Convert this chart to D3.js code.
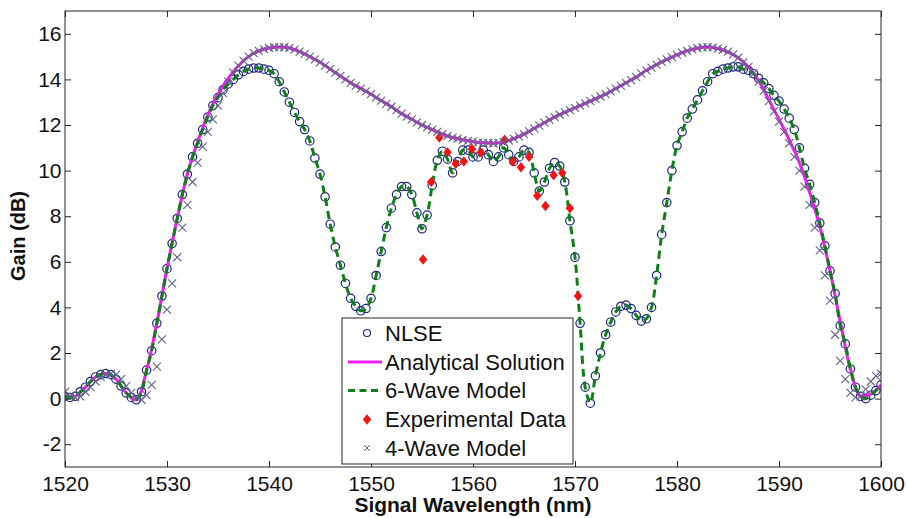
<!DOCTYPE html>
<html>
<head>
<meta charset="utf-8">
<script src="https://cdn.jsdelivr.net/npm/d3@7"></script>
<style>
  html, body { margin: 0; padding: 0; background: #fff; }
  svg { display: block; }
  text { font-family: Arial, "Liberation Sans", sans-serif; fill: #111; }
</style>
</head>
<body>
<svg id="chart" width="907" height="518"></svg>
<script>
// ---------------- DATA ----------------
// Wavelength grids (nm)
const gridStart = 1520, gridEnd = 1600;
const halfStep = 0.5, fullStep = 1;

// NLSE (circles), sampled every 0.5 nm from 1520 to 1600
const nlseGain = [
  0.1, 0.05, 0.1, 0.3, 0.5, 0.75, 0.95, 1.05, 1.1, 1.05,
  0.85, 0.55, 0.25, 0.05, -0.05, 0.3, 1.25, 2.1, 3.3, 4.5,
  5.7, 6.8, 7.9, 8.95, 9.85, 10.6, 11.2, 11.8, 12.35, 12.85,
  13.2, 13.55, 13.8, 14.0, 14.2, 14.35, 14.45, 14.5, 14.5, 14.45,
  14.4, 14.25, 13.9, 13.45, 13.0, 12.55, 12.15, 11.8, 11.3, 10.55,
  9.85, 8.85, 7.65, 6.65, 5.85, 5.05, 4.4, 4.05, 3.85, 3.95,
  4.4, 5.4, 6.45, 7.5, 8.35, 8.95, 9.3, 9.3, 8.95, 8.15,
  7.45, 8.05, 9.35, 10.45, 10.85, 10.5, 9.9, 10.4, 10.9, 10.9,
  10.6, 10.6, 10.9, 10.7, 10.4, 10.6, 11.0, 10.7, 10.4, 10.6,
  10.9, 10.8, 9.9, 9.1, 9.5, 10.1, 10.35, 10.2, 9.5, 7.8,
  6.2, 3.3, 0.5, -0.2, 1.0, 2.0, 2.8, 3.35, 3.8, 4.05,
  4.1, 3.95, 3.65, 3.4, 3.5, 4.0, 5.4, 7.2, 8.6, 10.0,
  11.1, 11.7, 12.3, 12.7, 13.1, 13.5, 13.9, 14.25, 14.35, 14.45,
  14.5, 14.55, 14.55, 14.45, 14.4, 14.25, 14.05, 13.85, 13.6, 13.3,
  13.05, 12.7, 12.3, 11.8, 11.0, 10.1, 9.4, 8.6, 7.7, 6.7,
  5.6, 4.6, 3.2, 2.4, 1.3, 0.5, 0.1, 0.0, 0.15, 0.35,
  0.6
];

// 6-Wave model (dashed) follows the NLSE samples
const sixWaveGain = nlseGain;

// Analytical solution, every 1 nm from 1520 to 1600
const analyticalGain = [
  0.1, 0.1, 0.5, 0.95, 1.1, 0.85, 0.25, -0.05, 1.25, 3.3,
  5.7, 7.9, 9.85, 11.25, 12.45, 13.35, 14.05, 14.6, 15.0, 15.25,
  15.38, 15.42, 15.38, 15.22, 15.0, 14.75, 14.45, 14.15, 13.85, 13.6,
  13.35, 13.07, 12.8, 12.5, 12.25, 12.0, 11.8, 11.6, 11.45, 11.35,
  11.27, 11.22, 11.2, 11.25, 11.4, 11.6, 11.85, 12.1, 12.35, 12.55,
  12.75, 12.95, 13.15, 13.35, 13.6, 13.85, 14.1, 14.4, 14.65, 14.88,
  15.08, 15.25, 15.37, 15.42, 15.35, 15.2, 14.95, 14.55, 13.95, 13.1,
  12.25, 11.35, 10.35, 9.05, 7.55, 5.6, 3.4, 1.3, 0.1, 0.2,
  0.6
];

// 4-Wave model (x markers), every 0.5 nm from 1520 to 1600
const fourWaveGain = [
  0.3, 0.1, 0.05, 0.1, 0.3, 0.5, 0.75, 0.95, 1.05, 1.1,
  1.05, 0.85, 0.55, 0.25, 0.05, -0.05, 0.15, 0.6, 1.4, 2.6,
  3.9, 5.05, 6.2, 7.5, 8.5, 9.5, 10.35, 11.05, 11.7, 12.25,
  12.85, 13.4, 13.9, 14.3, 14.6, 14.82, 15.0, 15.15, 15.25, 15.33,
  15.38, 15.41, 15.42, 15.41, 15.38, 15.31, 15.22, 15.12, 15.0, 14.88,
  14.75, 14.6, 14.45, 14.3, 14.15, 14.0, 13.85, 13.72, 13.6, 13.47,
  13.35, 13.2, 13.07, 12.93, 12.8, 12.65, 12.5, 12.37, 12.25, 12.12,
  12.0, 11.9, 11.8, 11.7, 11.6, 11.52, 11.45, 11.4, 11.35, 11.3,
  11.27, 11.24, 11.22, 11.21, 11.2, 11.22, 11.25, 11.32, 11.4, 11.5,
  11.6, 11.72, 11.85, 11.97, 12.1, 12.22, 12.35, 12.45, 12.55, 12.65,
  12.75, 12.85, 12.95, 13.05, 13.15, 13.25, 13.35, 13.47, 13.6, 13.72,
  13.85, 13.97, 14.1, 14.25, 14.4, 14.52, 14.65, 14.77, 14.88, 14.98,
  15.08, 15.17, 15.25, 15.32, 15.37, 15.4, 15.42, 15.4, 15.35, 15.3,
  15.22, 15.1, 14.95, 14.75, 14.55, 14.25, 13.9, 13.5, 13.05, 12.6,
  12.15, 11.7, 11.2, 10.6, 10.0, 9.3, 8.5, 7.5, 6.5, 5.4,
  4.3, 2.8, 1.65, 0.85, 0.25, 0.05, 0.1, 0.4, 0.75, 1.0,
  1.1
];

// Experimental data (diamonds)
const expWavelength = [1555.1, 1555.9, 1556.7, 1557.5, 1558.3, 1559.1, 1559.9, 1560.75,
  1563.1, 1563.9, 1564.7, 1565.5, 1566.3, 1567.1, 1567.9, 1568.75, 1569.5, 1570.3];
const expGain = [6.1, 9.5, 11.45, 10.8, 10.3, 10.4, 10.95, 10.8,
  11.35, 10.4, 10.15, 10.6, 8.9, 8.45, 9.8, 9.9, 8.35, 4.5];

// Axis ticks and labels
const xTicks = [1520, 1530, 1540, 1550, 1560, 1570, 1580, 1590, 1600];
const yTicks = [-2, 0, 2, 4, 6, 8, 10, 12, 14, 16];
const xDomain = [1520, 1600];
const yDomain = [-3, 17];
const xTitle = "Signal Wavelength (nm)";
const yTitle = "Gain (dB)";
const legendLabels = ["NLSE", "Analytical Solution", "6-Wave Model", "Experimental Data", "4-Wave Model"];

// ---------------- DRAW ----------------
const svg = d3.select("#chart");
const L = 65, R = 881, T = 11, B = 467;
const x = d3.scaleLinear().domain(xDomain).range([L, R]);
const y = d3.scaleLinear().domain(yDomain).range([B, T]);

const halfGrid = d3.range(nlseGain.length).map(i => gridStart + i * halfStep);
const fullGrid = d3.range(analyticalGain.length).map(i => gridStart + i * fullStep);

const nlsePts = halfGrid.map((w, i) => [w, nlseGain[i]]);
const sixPts = halfGrid.map((w, i) => [w, sixWaveGain[i]]);
const anaPts = fullGrid.map((w, i) => [w, analyticalGain[i]]);
const fourPts = halfGrid.map((w, i) => [w, fourWaveGain[i]]);
const expPts = expWavelength.map((w, i) => [w, expGain[i]]);

const COL = {
  nlse: "#1b2580",
  ana: "#ee1fee",
  six: "#0d7f16",
  exp: "#f21414",
  four: "#62628a",
  axis: "#262626"
};

const plot = svg.append("g");
svg.append("clipPath").attr("id", "clip")
  .append("rect").attr("x", L).attr("y", T).attr("width", R - L).attr("height", B - T);

const data = plot.append("g").attr("clip-path", "url(#clip)");

// NLSE circles
data.append("g").selectAll("circle").data(nlsePts).join("circle")
  .attr("cx", d => x(d[0])).attr("cy", d => y(d[1])).attr("r", 4.2)
  .attr("fill", "none").attr("stroke", COL.nlse).attr("stroke-width", 1.2);

// Analytical line
data.append("path").datum(anaPts)
  .attr("d", d3.line().x(d => x(d[0])).y(d => y(d[1])).curve(d3.curveCatmullRom))
  .attr("fill", "none").attr("stroke", COL.ana).attr("stroke-width", 3);

// 6-wave dashed line
data.append("path").datum(sixPts)
  .attr("d", d3.line().x(d => x(d[0])).y(d => y(d[1])).curve(d3.curveCatmullRom))
  .attr("fill", "none").attr("stroke", COL.six).attr("stroke-width", 3)
  .attr("stroke-dasharray", "8,5");

// Diamonds
const diamond = (cx, cy, w, h) => `M${cx},${cy - h}L${cx + w},${cy}L${cx},${cy + h}L${cx - w},${cy}Z`;
data.append("g").selectAll("path").data(expPts).join("path")
  .attr("d", d => diamond(x(d[0]), y(d[1]), 4.2, 5.2))
  .attr("fill", COL.exp);

// 4-wave x markers
const cross = (cx, cy, s) => `M${cx - s},${cy - s}L${cx + s},${cy + s}M${cx - s},${cy + s}L${cx + s},${cy - s}`;
data.append("g").selectAll("path").data(fourPts).join("path")
  .attr("d", d => cross(x(d[0]), y(d[1]), 4))
  .attr("fill", "none").attr("stroke", COL.four).attr("stroke-width", 1.1);

// Axes
const axFont = "21px";
const gx = svg.append("g").attr("transform", `translate(0,${B})`)
  .call(d3.axisBottom(x).tickValues(xTicks).tickFormat(d3.format("d")).tickSizeInner(-6).tickSizeOuter(0).tickPadding(9));
const gxt = svg.append("g").attr("transform", `translate(0,${T})`)
  .call(d3.axisTop(x).tickValues(xTicks).tickFormat("").tickSizeInner(-6).tickSizeOuter(0));
const gy = svg.append("g").attr("transform", `translate(${L},0)`)
  .call(d3.axisLeft(y).tickValues(yTicks).tickFormat(d3.format("d")).tickSizeInner(-6).tickSizeOuter(0).tickPadding(3.5));
const gyr = svg.append("g").attr("transform", `translate(${R},0)`)
  .call(d3.axisRight(y).tickValues(yTicks).tickFormat("").tickSizeInner(-6).tickSizeOuter(0));
[gx, gxt, gy, gyr].forEach(g => {
  g.select(".domain").remove();
  g.selectAll("line").attr("stroke", COL.axis);
  g.selectAll("text").attr("font-size", axFont).attr("fill", "#111")
    .attr("font-family", "Arial, 'Liberation Sans', sans-serif");
});
gy.selectAll("text").text(d => String(d));

svg.append("rect").attr("x", L).attr("y", T).attr("width", R - L).attr("height", B - T)
  .attr("fill", "none").attr("stroke", COL.axis).attr("stroke-width", 1);

// Axis titles
svg.append("text").attr("x", (L + R) / 2).attr("y", 512)
  .attr("text-anchor", "middle").attr("font-weight", "bold").attr("font-size", "21px")
  .text(xTitle);
svg.append("text").attr("transform", "translate(25,236) rotate(-90)")
  .attr("text-anchor", "middle").attr("font-weight", "bold").attr("font-size", "20px")
  .text(yTitle);

// Legend
const lg = svg.append("g");
const lx = 342, ly = 318, lw = 231, lh = 146;
lg.append("rect").attr("x", lx).attr("y", ly).attr("width", lw).attr("height", lh)
  .attr("fill", "#fff").attr("stroke", COL.axis).attr("stroke-width", 1);
const rowY = [333, 362, 390.5, 419.5, 448];
const symX = 367, lineX0 = 348, lineX1 = 382, textX = 385;
lg.append("circle").attr("cx", symX).attr("cy", rowY[0]).attr("r", 3.5)
  .attr("fill", "none").attr("stroke", COL.nlse).attr("stroke-width", 1.2);
lg.append("line").attr("x1", lineX0).attr("x2", lineX1).attr("y1", rowY[1]).attr("y2", rowY[1])
  .attr("stroke", COL.ana).attr("stroke-width", 3);
lg.append("line").attr("x1", lineX0).attr("x2", lineX1).attr("y1", rowY[2]).attr("y2", rowY[2])
  .attr("stroke", COL.six).attr("stroke-width", 3).attr("stroke-dasharray", "7,4.5");
lg.append("path").attr("d", diamond(symX, rowY[3], 4.2, 5.2)).attr("fill", COL.exp);
lg.append("path").attr("d", cross(symX, rowY[4], 3)).attr("stroke", COL.four).attr("stroke-width", 1).attr("fill", "none");
legendLabels.forEach((t, i) => {
  lg.append("text").attr("x", textX).attr("y", rowY[i]).attr("dy", "0.36em")
    .attr("font-size", "22px").text(t);
});
</script>
</body>
</html>
